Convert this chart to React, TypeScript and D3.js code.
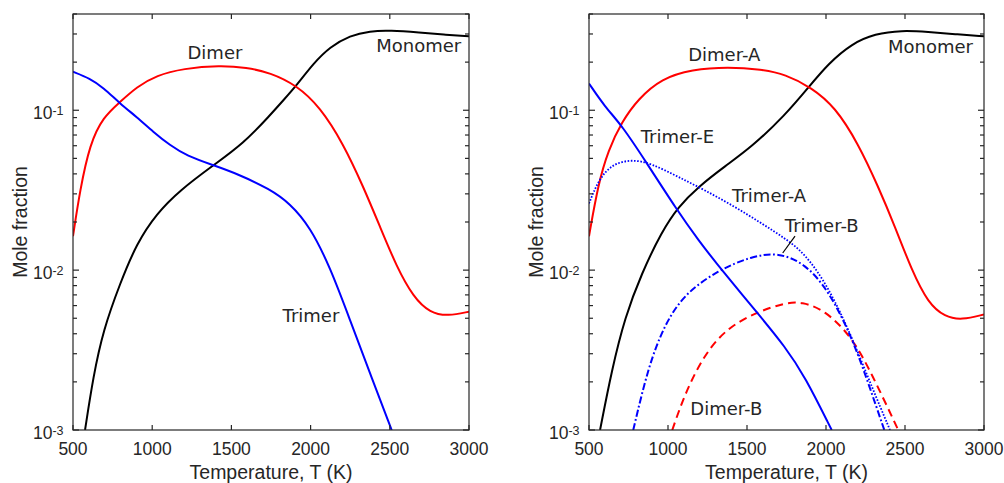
import React, { useEffect, useRef } from "react";
import * as d3 from "d3";

type Pt = [number, number];

// x ticks and y decades
const xTicks = [500, 1000, 1500, 2000, 2500, 3000];
const yDecades = [-3, -2, -1];

// left panel: temperature (K), mole fraction
const monomerLeft: Pt[] = [[576, 0.001], [628, 0.00216], [691, 0.00422], [797, 0.00826], [902, 0.0147], [1028, 0.0226], [1175, 0.0316], [1386, 0.0453], [1575, 0.0619], [1744, 0.0931], [1828, 0.1155], [1912, 0.1433], [2017, 0.196], [2122, 0.249], [2249, 0.294], [2375, 0.313], [2501, 0.316], [2691, 0.306], [2838, 0.297], [3000, 0.29]];
const dimerLeft: Pt[] = [[500, 0.0163], [544, 0.0316], [607, 0.0619], [691, 0.0908], [797, 0.1127], [902, 0.14], [1028, 0.1655], [1196, 0.1824], [1428, 0.191], [1596, 0.185], [1744, 0.172], [1912, 0.1433], [2059, 0.105], [2206, 0.0619], [2333, 0.0332], [2438, 0.0187], [2543, 0.0105], [2648, 0.0068], [2754, 0.0054], [2869, 0.00516], [3000, 0.0055]];
const trimerLeft: Pt[] = [[500, 0.174], [607, 0.158], [691, 0.1387], [797, 0.11], [902, 0.0908], [1007, 0.0732], [1112, 0.0604], [1218, 0.0519], [1386, 0.0453], [1533, 0.0402], [1744, 0.0321], [1870, 0.0261], [1996, 0.0187], [2122, 0.0105], [2249, 0.00487], [2375, 0.00226], [2512, 0.001]];

// right panel
const monomerRight: Pt[] = [[570, 0.001], [644, 0.00237], [728, 0.0051], [833, 0.00953], [960, 0.0174], [1065, 0.0249], [1192, 0.0332], [1361, 0.0447], [1530, 0.059], [1741, 0.0931], [1888, 0.1387], [2015, 0.196], [2163, 0.261], [2310, 0.301], [2479, 0.316], [2647, 0.309], [2816, 0.299], [3000, 0.29]];
const dimerARight: Pt[] = [[500, 0.0163], [559, 0.0348], [622, 0.0562], [707, 0.0845], [812, 0.118], [960, 0.158], [1150, 0.18], [1382, 0.187], [1593, 0.18], [1741, 0.168], [1909, 0.1387], [2057, 0.105], [2204, 0.0619], [2331, 0.0332], [2437, 0.0187], [2542, 0.01], [2647, 0.0062], [2753, 0.0051], [2859, 0.00487], [3000, 0.00528]];
const dimerBRight: Pt[] = [[1027, 0.001], [1108, 0.0017], [1234, 0.00302], [1382, 0.00442], [1572, 0.0055], [1741, 0.00625], [1846, 0.00634], [1994, 0.00562], [2163, 0.00383], [2289, 0.00226], [2457, 0.001]];
const trimerERight: Pt[] = [[500, 0.147], [601, 0.105], [707, 0.0806], [854, 0.0487], [1055, 0.0239], [1192, 0.0154], [1340, 0.01], [1572, 0.00531], [1741, 0.00332], [1867, 0.00216], [2036, 0.001]];
const trimerARight: Pt[] = [[500, 0.0261], [559, 0.0365], [644, 0.046], [770, 0.0494], [897, 0.0464], [1065, 0.0383], [1234, 0.0316], [1424, 0.0249], [1593, 0.0196], [1741, 0.0158], [1867, 0.0127], [2015, 0.00787], [2163, 0.00383], [2289, 0.00187], [2405, 0.001]];
const trimerBRight: Pt[] = [[780, 0.001], [875, 0.00249], [981, 0.00464], [1108, 0.00715], [1318, 0.01], [1530, 0.0122], [1698, 0.0129], [1867, 0.011], [2015, 0.0075], [2163, 0.00383], [2268, 0.00196], [2369, 0.001]];

// annotations: [text, T, value]
const labelsLeft: [string, number, number][] = [["Dimer", 1396, 0.209], ["Monomer", 2683, 0.231], ["Trimer", 2002, 0.00471]];
const labelsRight: [string, number, number][] = [["Dimer-A", 1356, 0.203], ["Monomer", 2661, 0.229], ["Trimer-E", 1060, 0.0625], ["Trimer-A", 1640, 0.0267], ["Trimer-B", 1973, 0.0172], ["Dimer-B", 1369, 0.00125]];
const pointerB: Pt[] = [[1804, 0.0163], [1726, 0.0128]];

const AX = "#262626";
const TICK_FONT = "'Liberation Sans', Arial, sans-serif";
const NOTE_FONT = "'DejaVu Sans', Verdana, sans-serif";

function App() {
    const ref = useRef<SVGSVGElement>(null);

    useEffect(() => {
        const svg = d3.select(ref.current);
        svg.selectAll("*").remove();

        const top = 14, bottom = 430;
        const y = d3.scaleLog().domain([0.001, 0.4]).range([bottom, top]);

        const panels = [
            {
                x0: 73, x1: 469, id: "clipL",
                series: [
                    { data: monomerLeft, color: "#000000", dash: null },
                    { data: dimerLeft, color: "#ff0000", dash: null },
                    { data: trimerLeft, color: "#0000ff", dash: null },
                ],
                labels: labelsLeft,
            },
            {
                x0: 589, x1: 984, id: "clipR",
                series: [
                    { data: monomerRight, color: "#000000", dash: null },
                    { data: dimerARight, color: "#ff0000", dash: null },
                    { data: dimerBRight, color: "#ff0000", dash: "8 5" },
                    { data: trimerERight, color: "#0000ff", dash: null },
                    { data: trimerARight, color: "#0000ff", dash: "1.6 1.6" },
                    { data: trimerBRight, color: "#0000ff", dash: "7 2.5 1.8 2.5" },
                ],
                labels: labelsRight,
            },
        ];

        panels.forEach((p, pi) => {
            const x = d3.scaleLinear().domain([500, 3000]).range([p.x0, p.x1]);
            const g = svg.append("g");

            g.append("clipPath").attr("id", p.id)
                .append("rect")
                .attr("x", p.x0).attr("y", top)
                .attr("width", p.x1 - p.x0).attr("height", bottom - top);

            // basis spline smooths out small reading errors in the sampled points
            const line = d3.line<Pt>()
                .x(d => x(d[0]))
                .y(d => y(d[1]))
                .curve(d3.curveBasis);

            p.series.forEach(s => {
                g.append("path")
                    .datum(s.data)
                    .attr("clip-path", `url(#${p.id})`)
                    .attr("d", line)
                    .attr("fill", "none")
                    .attr("stroke", s.color)
                    .attr("stroke-width", s.dash === "1.6 1.6" ? 1.8 : 2)
                    .attr("stroke-dasharray", s.dash);
            });

            // box
            g.append("rect")
                .attr("x", p.x0).attr("y", top)
                .attr("width", p.x1 - p.x0).attr("height", bottom - top)
                .attr("fill", "none").attr("stroke", AX).attr("stroke-width", 1.2);

            // x ticks (bottom + top)
            xTicks.forEach(t => {
                const xx = x(t);
                g.append("line").attr("x1", xx).attr("x2", xx).attr("y1", bottom).attr("y2", bottom - 5).attr("stroke", AX).attr("stroke-width", 1.2);
                g.append("line").attr("x1", xx).attr("x2", xx).attr("y1", top).attr("y2", top + 5).attr("stroke", AX).attr("stroke-width", 1.2);
                g.append("text")
                    .attr("x", xx).attr("y", 455)
                    .attr("text-anchor", "middle")
                    .attr("font-family", TICK_FONT).attr("font-size", 17.5)
                    .attr("fill", AX)
                    .text(t);
            });

            // y ticks: majors and minors, both sides
            yDecades.forEach(e => {
                for (let m = 1; m <= 9; m++) {
                    const v = m * Math.pow(10, e);
                    if (v > 0.4) continue;
                    const yy = y(v);
                    const len = m === 1 ? 6 : 4;
                    g.append("line").attr("x1", p.x0).attr("x2", p.x0 + len).attr("y1", yy).attr("y2", yy).attr("stroke", AX).attr("stroke-width", 1.2);
                    g.append("line").attr("x1", p.x1).attr("x2", p.x1 - len).attr("y1", yy).attr("y2", yy).attr("stroke", AX).attr("stroke-width", 1.2);
                }
                const lab = g.append("text")
                    .attr("x", p.x0 - 9.5).attr("y", y(Math.pow(10, e)) + 9)
                    .attr("text-anchor", "end")
                    .attr("font-family", TICK_FONT).attr("font-size", 17.5)
                    .attr("fill", AX);
                lab.append("tspan").text("10");
                lab.append("tspan").attr("dy", -4.5).attr("font-size", 12.5).text(`-${-e}`);
            });

            // axis titles
            g.append("text")
                .attr("x", (p.x0 + p.x1) / 2).attr("y", 479)
                .attr("text-anchor", "middle")
                .attr("font-family", TICK_FONT).attr("font-size", 19.5)
                .attr("fill", AX)
                .text("Temperature, T (K)");
            g.append("text")
                .attr("transform", `translate(${p.x0 - 46},${(top + bottom) / 2}) rotate(-90)`)
                .attr("text-anchor", "middle")
                .attr("font-family", TICK_FONT).attr("font-size", 19.5)
                .attr("fill", AX)
                .text("Mole fraction");

            // curve labels
            p.labels.forEach(([txt, t, v]) => {
                g.append("text")
                    .attr("x", x(t)).attr("y", y(v))
                    .attr("text-anchor", "middle")
                    .attr("font-family", NOTE_FONT).attr("font-size", 18)
                    .attr("fill", AX)
                    .text(txt);
            });

            if (pi === 1) {
                g.append("line")
                    .attr("x1", x(pointerB[0][0])).attr("y1", y(pointerB[0][1]))
                    .attr("x2", x(pointerB[1][0])).attr("y2", y(pointerB[1][1]))
                    .attr("stroke", "#000").attr("stroke-width", 1.2);
            }
        });
    }, []);

    return (
        <svg ref={ref} width={1004} height={483}
            style={{ position: "absolute", left: 0, top: 0, background: "#fff" }} />
    );
}

export default App;
